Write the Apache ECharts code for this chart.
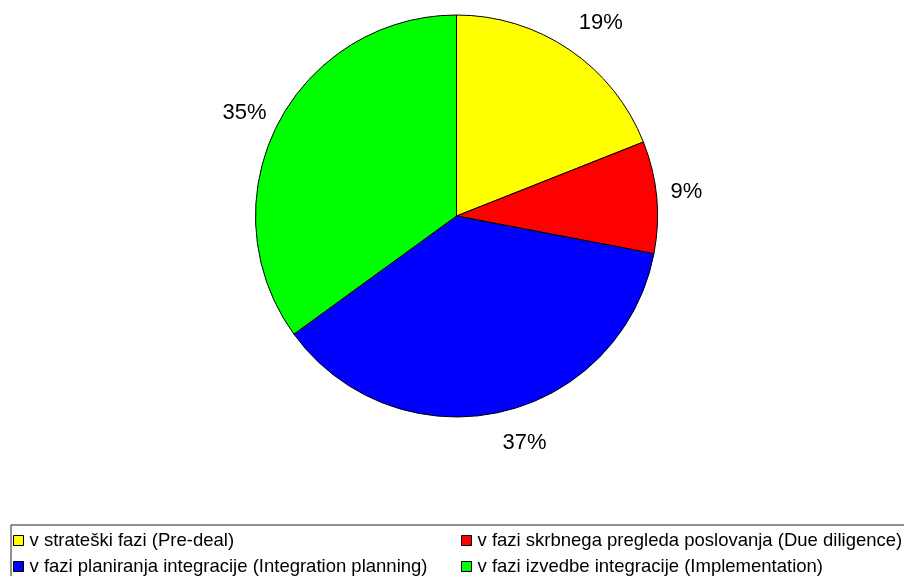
<!DOCTYPE html>
<html>
<head>
<meta charset="utf-8">
<script src="https://cdn.jsdelivr.net/npm/echarts@6/dist/echarts.min.js"></script>
<style>html,body{margin:0;padding:0;background:#fff}#c{width:904px;height:576px}</style>
</head>
<body>
<div id="c"></div>
<script>
const categories = [
  'v strateški fazi (Pre-deal)',
  'v fazi skrbnega pregleda poslovanja (Due diligence)',
  'v fazi planiranja integracije (Integration planning)',
  'v fazi izvedbe integracije (Implementation)'
];
const values = [19, 9, 37, 35];
const colors = ['#ffff00', '#ff0000', '#0000ff', '#00ff00'];
const labelOffsets = [[10, 5], [-8, -2], [16, -6], [1, 5]];
// legend cell placement: [left, top]
const legendCells = [[13, 531], [461, 531], [13, 557], [461, 557]];

const font = '"Liberation Sans", Arial, sans-serif';
const data = categories.map((n, i) => ({ name: n, value: values[i], itemStyle: { color: colors[i] } }));
const labelData = categories.map((n, i) => ({ name: n, value: values[i], label: { offset: labelOffsets[i] } }));

const legends = categories.map((n, i) => ({
  data: [n],
  left: legendCells[i][0], top: legendCells[i][1],
  orient: 'horizontal', padding: 0,
  icon: 'rect', itemWidth: 10, itemHeight: 10,
  itemStyle: { borderColor: '#000', borderWidth: 1 },
  textStyle: { fontFamily: font, fontSize: 18.5, color: '#000', lineHeight: 18, padding: [0, 0, 0, 1] },
  selectedMode: false
}));

const chart = echarts.init(document.getElementById('c'));
chart.setOption({
  animation: false,
  backgroundColor: '#fff',
  textStyle: { fontFamily: font },
  legend: legends,
  graphic: [{
    type: 'rect', left: 8.5, top: 522.5, z: -1,
    shape: { width: 1000, height: 100 },
    style: { fill: 'none', stroke: '#222', lineWidth: 1 }
  }],
  series: [
    {
      type: 'pie', center: [456.5, 216], radius: [0, 201],
      startAngle: 90, clockwise: true, silent: true,
      data: data,
      itemStyle: { borderColor: '#000', borderWidth: 1 },
      label: { show: false }, labelLine: { show: false }
    },
    {
      type: 'pie', center: [456.5, 216], radius: [225, 247],
      startAngle: 90, clockwise: true, silent: true,
      data: labelData,
      itemStyle: { color: 'rgba(0,0,0,0)', borderWidth: 0 },
      label: { show: true, position: 'inside', formatter: '{c}%', fontFamily: font, fontSize: 22, color: '#000' },
      labelLine: { show: false }
    }
  ]
});
</script>
</body>
</html>
